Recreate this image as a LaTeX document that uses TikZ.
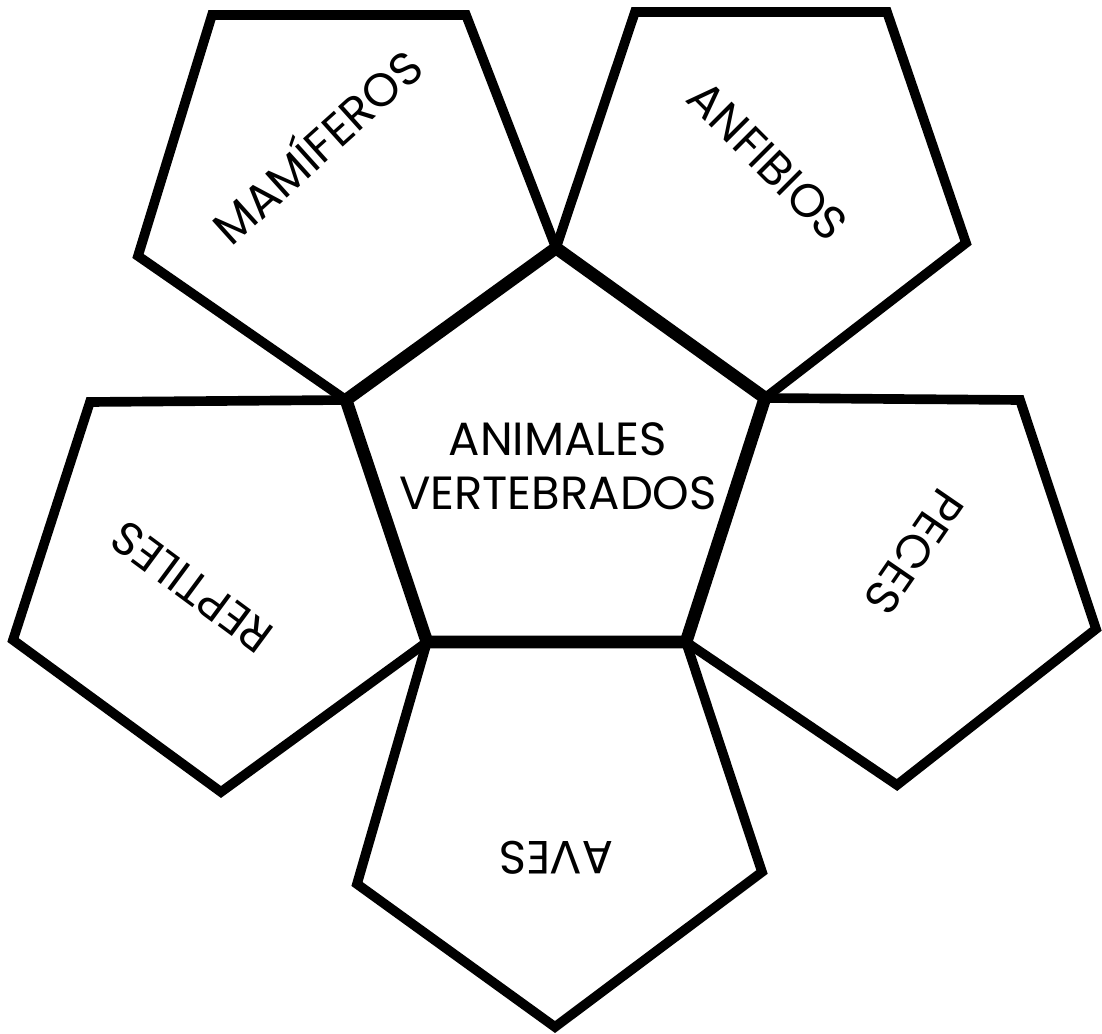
\documentclass[tikz,border=0pt]{standalone}
\usepackage{fontspec}
\setmainfont{Poppins}
\begin{document}
\begin{tikzpicture}[x=0.02cm,y=0.02cm,
  outerpent/.style={line width=5.5pt, line join=miter},
  innerpent/.style={line width=7.2pt, line join=miter},
  lbl/.style={font=\fontsize{26.5}{30.7}\selectfont, inner sep=0pt, text height=0.65cm, text depth=0pt}]
\useasboundingbox (0,0) rectangle (1102,1034);
% central pentagon
\coordinate (c1) at (556,786);
\coordinate (c2) at (765,636);
\coordinate (c3) at (686,392);
\coordinate (c4) at (427,392);
\coordinate (c5) at (346,634);
% mamiferos
\coordinate (m1) at (212,1019);
\coordinate (m2) at (466,1019);
\coordinate (m5) at (138,778);
% anfibios
\coordinate (a1) at (635,1022);
\coordinate (a2) at (887,1022);
\coordinate (a3) at (966,791);
% peces
\coordinate (p2) at (1020,634);
\coordinate (p3) at (1096,405);
\coordinate (p4) at (897,249);
% reptiles
\coordinate (r1) at (90,632);
\coordinate (r4) at (221,242);
\coordinate (r5) at (13,394);
% aves
\coordinate (v3) at (762,162);
\coordinate (v4) at (555,7);
\coordinate (v5) at (357,150);

\draw[outerpent] (m1) -- (m2) -- (c1) -- (c5) -- (m5) -- cycle;
\draw[outerpent] (a1) -- (a2) -- (a3) -- (c2) -- (c1) -- cycle;
\draw[outerpent] (c2) -- (p2) -- (p3) -- (p4) -- (c3) -- cycle;
\draw[outerpent] (r1) -- (c5) -- (c4) -- (r4) -- (r5) -- cycle;
\draw[outerpent] (c4) -- (c3) -- (v3) -- (v4) -- (v5) -- cycle;
\draw[innerpent] (c1) -- (c2) -- (c3) -- (c4) -- (c5) -- cycle;

\node[lbl, align=center] (center) at (558,541) {ANIMALES\\VERTEBRADOS};
\node[lbl, rotate=42] (mam) at (318,886) {MAMÍFEROS};
\node[lbl, rotate=-45] (anf) at (768,873) {ANFIBIOS};
\node[lbl, rotate=-124.5] (pec) at (914,482) {PECES};
\node[lbl, rotate=143.5] (rep) at (192,447) {REPTILES};
\node[lbl, rotate=180] (ave) at (556,176) {AVES};
\end{tikzpicture}
\end{document}
